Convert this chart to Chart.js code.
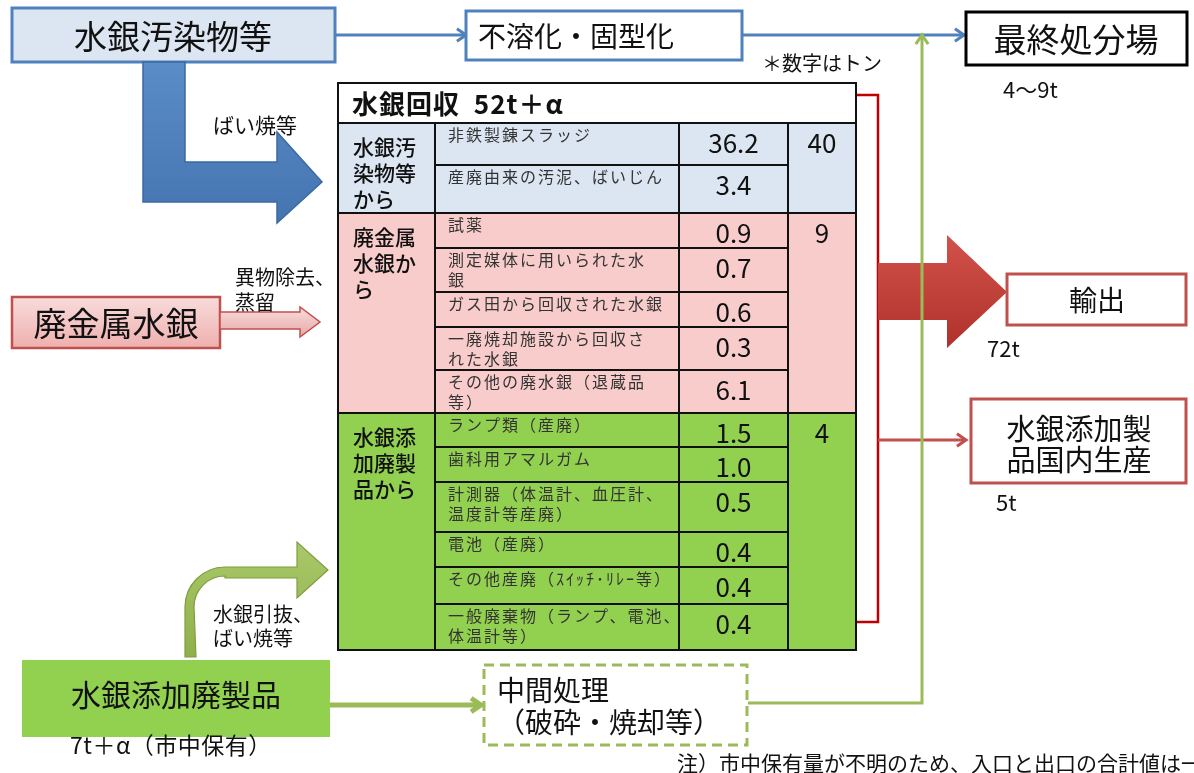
<!DOCTYPE html>
<html lang="ja">
<head>
<meta charset="utf-8">
<title>水銀フロー</title>
<script src="https://cdn.jsdelivr.net/npm/chart.js@4.4.1/dist/chart.umd.min.js"></script>
<style>
  html, body { margin: 0; padding: 0; background: #fff; }
  #wrap { width: 1194px; height: 773px; }
</style>
</head>
<body>
<div id="wrap"><canvas id="flowChart" width="1194" height="773"></canvas></div>
<script>
// data (tons)
var groupNames = ['水銀汚染物等から', '廃金属水銀から', '水銀添加廃製品から'];
var groupTotals = [40, 9, 4];
var itemLabels = [
    '非鉄製錬スラッジ',
    '産廃由来の汚泥、ばいじん',
    '試薬',
    '測定媒体に用いられた水\n銀',
    'ガス田から回収された水銀',
    '一廃焼却施設から回収さ\nれた水銀',
    'その他の廃水銀（退蔵品\n等）',
    'ランプ類（産廃）',
    '歯科用アマルガム',
    '計測器（体温計、血圧計、\n温度計等産廃）',
    '電池（産廃）',
    'その他産廃（ｽｲｯﾁ･ﾘﾚｰ等）',
    '一般廃棄物（ランプ、電池、\n体温計等）'
];
var itemValues = [36.2, 3.4, 0.9, 0.7, 0.6, 0.3, 6.1, 1.5, 1.0, 0.5, 0.4, 0.4, 0.4];
var itemGroups = [0, 0, 1, 1, 1, 1, 1, 2, 2, 2, 2, 2, 2];
var sourceNames = ['水銀汚染物等', '廃金属水銀', '水銀添加廃製品'];
var sourceSteps = ['ばい焼等', '異物除去、\n蒸留', '水銀引抜、\nばい焼等'];
var sourceAmount = '7t＋α（市中保有）';
var treatNames = ['不溶化・固型化', '中間処理\n（破砕・焼却等）'];
var destNames = ['最終処分場', '輸出', '水銀添加製\n品国内生産'];
var destAmounts = ['4〜9t', '72t', '5t'];
var recoveryTitle = '水銀回収  52t＋α';
var unitNote = '＊数字はトン';
var footNote = '注）市中保有量が不明のため、入口と出口の合計値は一致';

// table layout (px in the 1194x773 frame)
var rowEdges = [123, 165, 213, 248, 292, 327, 370, 413, 447, 482, 532, 567, 604, 650];
var colEdges = [338, 435, 679, 788, 856];
var groupFills = ['#dce6f2', '#f9cccc', '#92d050'];
var FONT = '"Noto Sans CJK JP", "Noto Sans", sans-serif';

var flowPlugin = {
    id: 'flow',
    afterDraw: function(chart) {
        var ctx = chart.ctx;
        var sx = chart.scales.x, sy = chart.scales.y;
        function X(v) { return sx.getPixelForValue(v); }
        function Y(v) { return sy.getPixelForValue(v); }

        function rect(x0, y0, x1, y1, fill, stroke, lw, dash) {
            ctx.save();
            if (fill) { ctx.fillStyle = fill; ctx.fillRect(X(x0), Y(y0), X(x1) - X(x0), Y(y1) - Y(y0)); }
            if (stroke) {
                ctx.strokeStyle = stroke; ctx.lineWidth = lw || 2;
                ctx.setLineDash(dash || []);
                ctx.strokeRect(X(x0), Y(y0), X(x1) - X(x0), Y(y1) - Y(y0));
            }
            ctx.restore();
        }
        function text(str, x, y, size, opts) {
            opts = opts || {};
            ctx.save();
            ctx.font = (opts.weight || 'normal') + ' ' + size + 'px ' + FONT;
            ctx.fillStyle = opts.color || '#111';
            ctx.textAlign = opts.align || 'left';
            ctx.textBaseline = 'middle';
            if (opts.spacing) ctx.letterSpacing = opts.spacing + 'px';
            String(str).split('\n').forEach(function(s, i) {
                ctx.fillText(s, X(x), Y(y + i * (opts.lh || size * 1.2)));
            });
            ctx.restore();
        }
        function path(pts, fill, stroke, lw) {
            ctx.save();
            ctx.beginPath();
            pts.forEach(function(p, i) { if (i === 0) ctx.moveTo(X(p[0]), Y(p[1])); else ctx.lineTo(X(p[0]), Y(p[1])); });
            ctx.closePath();
            if (fill) { ctx.fillStyle = fill; ctx.fill(); }
            if (stroke) { ctx.strokeStyle = stroke; ctx.lineWidth = lw || 1.5; ctx.lineJoin = 'miter'; ctx.stroke(); }
            ctx.restore();
        }
        function arrowLine(pts, color, lw, head) {
            ctx.save();
            ctx.strokeStyle = color; ctx.lineWidth = lw; ctx.lineJoin = 'miter';
            ctx.beginPath();
            pts.forEach(function(p, i) { if (i === 0) ctx.moveTo(X(p[0]), Y(p[1])); else ctx.lineTo(X(p[0]), Y(p[1])); });
            ctx.stroke();
            if (head) {
                var a = pts[pts.length - 2], b = pts[pts.length - 1];
                var ang = Math.atan2(Y(b[1]) - Y(a[1]), X(b[0]) - X(a[0]));
                var L = head;
                ctx.beginPath();
                ctx.moveTo(X(b[0]) - L * Math.cos(ang - 0.6), Y(b[1]) - L * Math.sin(ang - 0.6));
                ctx.lineTo(X(b[0]), Y(b[1]));
                ctx.lineTo(X(b[0]) - L * Math.cos(ang + 0.6), Y(b[1]) - L * Math.sin(ang + 0.6));
                ctx.stroke();
            }
            ctx.restore();
        }
        function vgrad(y0, y1, c0, c1) {
            var g = ctx.createLinearGradient(0, Y(y0), 0, Y(y1));
            g.addColorStop(0, c0); g.addColorStop(1, c1);
            return g;
        }

        // thin connectors
        arrowLine([[335, 35], [466, 35]], '#4f81bd', 3, 11);
        arrowLine([[742, 35], [964, 35]], '#4f81bd', 3, 11);
        arrowLine([[330, 705], [481, 705]], '#9bbb59', 5, 12);

        // red bracket + outputs
        ctx.save();
        ctx.strokeStyle = '#c00000'; ctx.lineWidth = 2.5;
        ctx.beginPath();
        ctx.moveTo(X(857), Y(95)); ctx.lineTo(X(878), Y(95)); ctx.lineTo(X(878), Y(622)); ctx.lineTo(X(857), Y(622));
        ctx.stroke();
        ctx.restore();
        arrowLine([[878, 440], [966, 440]], '#c0504d', 3, 11);
        path([[878, 263], [947, 263], [947, 235], [1007, 292], [947, 348], [947, 320], [878, 320]],
            vgrad(235, 348, '#d2524b', '#b0302b'), null);

        // green return line to 最終処分場
        arrowLine([[748, 703], [922, 703], [922, 35]], '#9bbb59', 3, 11);

        // source boxes
        rect(12, 8, 335, 62, '#dce6f2', '#4f81bd', 3);
        text(sourceNames[0], 173, 36, 33, { align: 'center' });
        rect(12, 297, 220, 348, vgrad(297, 348, '#f8dcdc', '#eeb0ae'), '#c0504d', 2.5);
        text(sourceNames[1], 116, 323, 33, { align: 'center' });
        rect(22, 660, 330, 737, '#92d050');
        text(sourceNames[2], 176, 695, 30, { align: 'center' });
        text(sourceAmount, 70, 745, 23, { spacing: 0.5 });

        // treatment boxes
        rect(466, 11, 742, 60, '#fff', '#4f81bd', 3);
        text(treatNames[0], 478, 36, 28);
        rect(484, 665, 747, 745, '#fff', '#9bbb59', 3, [10, 6]);
        text(treatNames[1], 497, 690, 28, { lh: 32 });

        // destination boxes
        rect(966, 12, 1187, 65, '#fff', '#000', 3);
        text(destNames[0], 1076, 39, 33, { align: 'center' });
        text(destAmounts[0], 1003, 90, 22);
        rect(1007, 274, 1186, 325, '#fff', '#c0504d', 3);
        text(destNames[1], 1097, 300, 28, { align: 'center' });
        text(destAmounts[1], 987, 349, 22);
        rect(971, 399, 1186, 483, '#fff', '#c0504d', 3);
        text(destNames[2], 1079, 429, 29, { align: 'center', lh: 31 });
        text(destAmounts[2], 996, 503, 22);

        // block arrows
        path([[143, 62], [185, 62], [185, 162], [277, 162], [277, 132], [322, 182], [277, 223], [277, 202], [143, 202]],
            vgrad(62, 223, '#5a8cc8', '#4575b0'), '#3a6aa3', 1.5);
        text(sourceSteps[0], 213, 125, 21);
        path([[220, 312], [300, 312], [300, 307], [320, 322], [300, 337], [300, 329], [220, 329]],
            vgrad(307, 337, '#f8dcdc', '#e8a8a6'), '#c0504d', 1.5);
        text(sourceSteps[1], 235, 277, 20, { lh: 25 });

        // curved green arrow
        ctx.save();
        var r1 = X(265) - X(225), r2 = X(255) - X(225);
        ctx.beginPath();
        ctx.moveTo(X(185), Y(657)); ctx.lineTo(X(185), Y(607));
        ctx.arc(X(225), Y(607), r1, Math.PI, 1.5 * Math.PI);
        ctx.lineTo(X(297), Y(567)); ctx.lineTo(X(297), Y(542)); ctx.lineTo(X(328), Y(570));
        ctx.lineTo(X(297), Y(598)); ctx.lineTo(X(297), Y(578)); ctx.lineTo(X(225), Y(578));
        ctx.arc(X(225), Y(607), r2 + 1, 1.5 * Math.PI, Math.PI, true);
        ctx.lineTo(X(196), Y(657));
        ctx.closePath();
        ctx.fillStyle = vgrad(542, 657, '#a9c96a', '#8fb04a');
        ctx.fill();
        ctx.strokeStyle = '#7f9d3f'; ctx.lineWidth = 1.2; ctx.stroke();
        ctx.restore();
        text(sourceSteps[2], 213, 614, 20, { lh: 24 });

        // recovery table
        rect(colEdges[0], 83, colEdges[4], rowEdges[0], '#fff');
        text(recoveryTitle, 352, 104, 26, { weight: 'bold', spacing: 1 });
        var groupStart = [], groupEnd = [];
        itemGroups.forEach(function(g, i) {
            if (groupStart[g] === undefined) groupStart[g] = i;
            groupEnd[g] = i;
        });
        groupNames.forEach(function(name, g) {
            var top = rowEdges[groupStart[g]], bottom = rowEdges[groupEnd[g] + 1];
            rect(colEdges[0], top, colEdges[4], bottom, groupFills[g]);
            var lines = name.match(/.{1,3}/g).join('\n');
            text(lines, 353, top + 24, 21, { lh: 26, weight: '500' });
            text(String(groupTotals[g]), (colEdges[3] + colEdges[4]) / 2, top + 20, 26, { align: 'center' });
        });
        itemLabels.forEach(function(lab, i) {
            var top = rowEdges[i];
            text(lab, colEdges[1] + 13, top + 12, 16, { color: '#333', lh: 20, spacing: 2 });
            text(itemValues[i].toFixed(1), (colEdges[2] + colEdges[3]) / 2, top + 20, 26, { align: 'center' });
        });
        // grid
        ctx.save();
        ctx.strokeStyle = '#111'; ctx.lineWidth = 2;
        ctx.beginPath();
        rowEdges.forEach(function(y, i) {
            if (i === 0 || i === rowEdges.length - 1) return;
            var groupBreak = itemGroups[i] !== itemGroups[i - 1];
            ctx.moveTo(X(groupBreak ? colEdges[0] : colEdges[1]), Y(y));
            ctx.lineTo(X(groupBreak ? colEdges[4] : colEdges[3]), Y(y));
        });
        ctx.moveTo(X(colEdges[0]), Y(rowEdges[0])); ctx.lineTo(X(colEdges[4]), Y(rowEdges[0]));
        [1, 2, 3].forEach(function(c) {
            ctx.moveTo(X(colEdges[c]), Y(rowEdges[0]));
            ctx.lineTo(X(colEdges[c]), Y(rowEdges[rowEdges.length - 1]));
        });
        ctx.stroke();
        ctx.restore();
        rect(colEdges[0], 83, colEdges[4], rowEdges[rowEdges.length - 1], null, '#111', 2);

        // notes
        text(unitNote, 762, 63, 20);
        text(footNote, 677, 763, 21);
    }
};

new Chart(document.getElementById('flowChart'), {
    type: 'scatter',
    data: { datasets: [{ data: [], pointRadius: 0 }] },
    options: {
        responsive: false,
        animation: false,
        devicePixelRatio: 1,
        layout: { padding: 0 },
        scales: {
            x: { type: 'linear', min: 0, max: 1194, display: false },
            y: { type: 'linear', min: 0, max: 773, reverse: true, display: false }
        },
        plugins: { legend: { display: false }, tooltip: { enabled: false } }
    },
    plugins: [flowPlugin]
});
</script>
</body>
</html>
